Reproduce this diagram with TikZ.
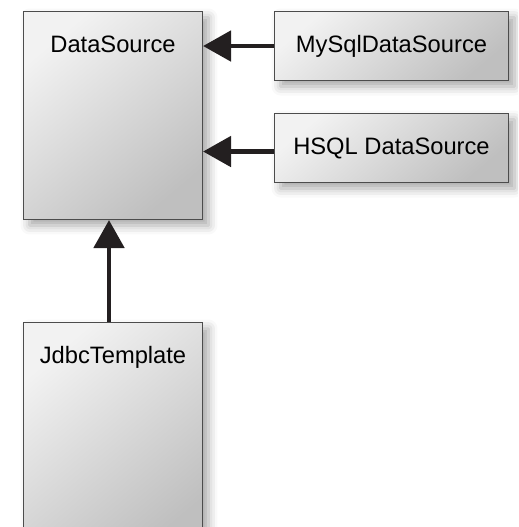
\documentclass[tikz,border=0pt]{standalone}
\usepackage{fontspec}
\setmainfont{Liberation Sans}
\usetikzlibrary{arrows.meta,shadows.blur}
\definecolor{inkline}{HTML}{231F20}
\tikzset{
  classbox/.style={draw=black!70, line width=0.6pt, rectangle, inner sep=0pt,
    anchor=north west, top color=white!95!black, bottom color=black!25,
    shading angle=40,
    blur shadow={shadow xshift=0.12cm, shadow yshift=-0.12cm,
      shadow blur radius=0.18cm, shadow opacity=35},
    font=\fontsize{13.5pt}{16pt}\selectfont},
  bigbox/.style={classbox, minimum width=3.58cm, text height=0.82cm},
  smallbox/.style={classbox, minimum width=4.68cm, minimum height=1.38cm},
  inherit/.style={draw=inkline, line width=2.8pt,
    -{Triangle[length=0.56cm, width=0.6cm]}}
}
\begin{document}
\begin{tikzpicture}[x=0.02cm, y=-0.02cm]
	\useasboundingbox (0, 0) rectangle (518, 527);
	\clip (0, 0) rectangle (518, 527);
	% classes
	\node[bigbox, text depth=3.34cm] (ds) at (23, 11) {DataSource};
	\node[smallbox] (mysql) at (274, 11) {MySqlDataSource};
	\node[smallbox] (hsql) at (274, 113) {HSQL DataSource};
	\node[bigbox, text depth=3.78cm] (jdbc) at (23, 322) {JdbcTemplate};
	% arrows
	\draw[inherit] (mysql.west) -- (mysql.west -| ds.east);
	\draw[inherit] ([yshift=-0.07cm]hsql.west) -- ([yshift=-0.07cm]hsql.west -| ds.east);
	\draw[inherit] ([xshift=-0.08cm]jdbc.north) -- ([xshift=-0.08cm]ds.south);
\end{tikzpicture}
\end{document}
